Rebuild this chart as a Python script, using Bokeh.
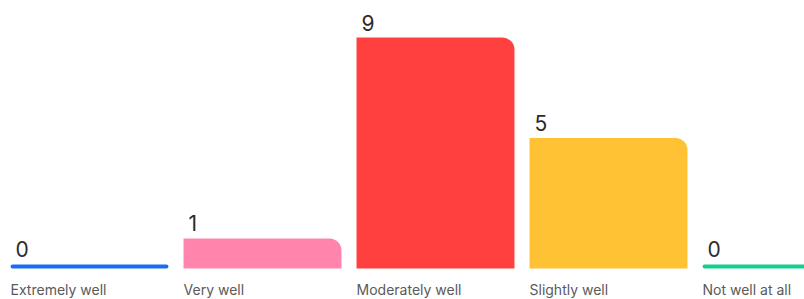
from bokeh.plotting import figure
from bokeh.models import ColumnDataSource, Range1d
from bokeh.core.properties import value
from bokeh.embed import file_html
from bokeh.resources import INLINE

categories = ["Extremely well", "Very well", "Moderately well", "Slightly well", "Not well at all"]
counts = [0, 1, 9, 5, 0]
colors = ["#1a6cf5", "#ff85ad", "#ff403f", "#ffc234", "#12cf8b"]

idx = list(range(len(categories)))
bw = 0.913
base = -0.2  # bars start a few pixels below zero, so zero shows as a thin line
src = ColumnDataSource(dict(x=idx, top=counts, color=colors, cat=categories,
                            left=[i - bw / 2 for i in idx],
                            lab=[str(c) for c in counts]))

p = figure(width=804, height=299, output_backend="svg", toolbar_location=None,
           x_range=Range1d(-0.5145, 4.133), y_range=Range1d(-1.434, 10.478),
           min_border=0)
p.axis.visible = False
p.grid.visible = False
p.outline_line_color = None
p.background_fill_color = "white"
p.border_fill_color = "white"

pos = ColumnDataSource(dict(x=[i for i, c in zip(idx, counts) if c > 0],
                            top=[c for c in counts if c > 0],
                            color=[col for col, c in zip(colors, counts) if c > 0]))
p.vbar(x="x", top="top", bottom=base, width=bw, fill_color="color", line_color=None,
       source=pos, border_radius=(0, 12, 0, 0))

zero = ColumnDataSource(dict(x0=[i - bw / 2 + 0.012 for i, c in zip(idx, counts) if c == 0],
                             x1=[i + bw / 2 - 0.012 for i, c in zip(idx, counts) if c == 0],
                             color=[col for col, c in zip(colors, counts) if c == 0]))
p.segment(x0="x0", y0=base / 2 - 0.02, x1="x1", y1=base / 2 - 0.02, line_color="color",
          line_width=4, line_cap="round", source=zero)

p.text(x="left", y="top", text="lab", source=src, x_offset=5, y_offset=-7,
       text_baseline="bottom", text_font=value("Inter"), text_font_size="21px",
       text_color="#2b2b2b")
p.text(x="left", y=base, text="cat", source=src, x_offset=0, y_offset=12,
       text_baseline="top", text_font=value("Inter"), text_font_size="14px",
       text_color="#5a5a5a")

open("out.html", "w").write(file_html(p, INLINE))
